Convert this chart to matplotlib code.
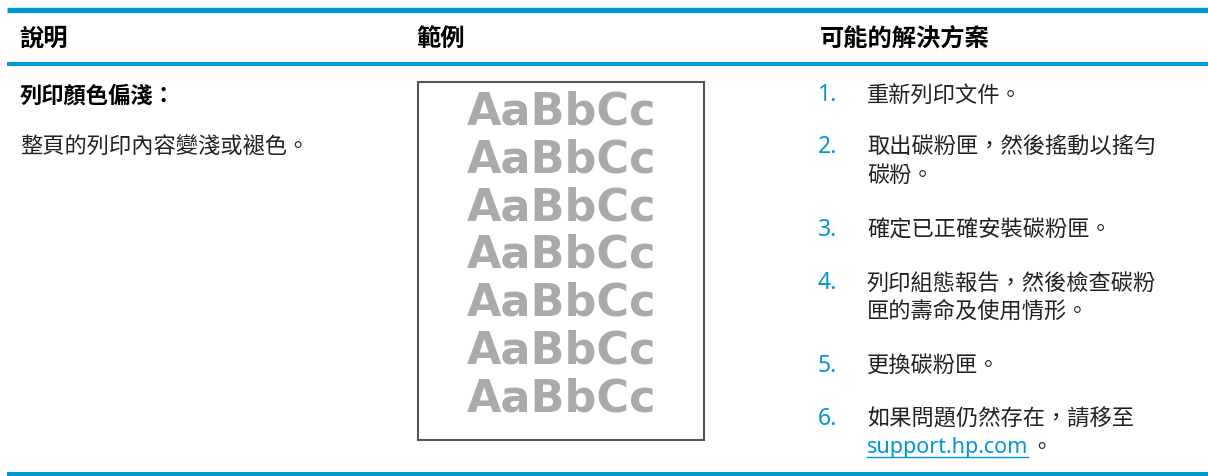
import matplotlib.pyplot as plt
from matplotlib.patches import Rectangle

plt.rcParams['font.family'] = ['Noto Sans CJK TC', 'DejaVu Sans']

# table content
headers = ['說明', '範例', '可能的解決方案']
header_x = [19, 416, 820]
problem_title = '列印顏色偏淺：'
problem_desc = '整頁的列印內容變淺或褪色。'
sample_word = 'AaBbCc'
sample_rows = 7
steps = [
    ['重新列印文件。'],
    ['取出碳粉匣，然後搖動以搖勻', '碳粉。'],
    ['確定已正確安裝碳粉匣。'],
    ['列印組態報告，然後檢查碳粉', '匣的壽命及使用情形。'],
    ['更換碳粉匣。'],
    ['如果問題仍然存在，請移至'],
]
step_y = [95, 147, 230, 283, 366, 419]
link_text = 'support.hp.com'

blue = '#0096d6'
dark = '#222222'

fig = plt.figure(figsize=(12.08, 4.77), dpi=100)
ax = fig.add_axes([0, 0, 1, 1])
ax.set_xlim(0, 1208)
ax.set_ylim(477, 0)
ax.axis('off')

# rules
ax.plot([7, 1208], [10.5, 10.5], color=blue, lw=3.8, solid_capstyle='butt')
ax.plot([7, 1208], [65, 65], color=blue, lw=2.9, solid_capstyle='butt')
ax.plot([7, 1208], [475, 475], color=blue, lw=2.9, solid_capstyle='butt')

for h, x in zip(headers, header_x):
    ax.text(x, 39, h, fontsize=17.5, fontweight='bold', color='black',
            va='center', ha='left')

ax.text(20, 96, problem_title, fontsize=16, fontweight='bold', color='black',
        va='center', ha='left')
ax.text(20, 146, problem_desc, fontsize=16, color=dark, va='center', ha='left')

# sample page
ax.add_patch(Rectangle((418, 83), 286, 358, fill=False, ec='#555555', lw=1.5))
for i in range(sample_rows):
    ax.text(562, 112 + 47.8 * i, sample_word, fontsize=32, fontweight='heavy',
            family='DejaVu Sans', color='#aaaaaa', ha='center', va='center')

# steps
line_gap = 28.5
for i, (lines, y) in enumerate(zip(steps, step_y)):
    ax.text(818, y, f'{i + 1}.', fontsize=16.5, fontweight='semibold', color=blue,
            va='center', ha='left', family=['Noto Sans', 'DejaVu Sans'])
    for j, line in enumerate(lines):
        ax.text(867, y + j * line_gap, line, fontsize=16, color=dark,
                va='center', ha='left')

# link line for step 6
ly = step_y[5] + line_gap
link = ax.text(867, ly, link_text, fontsize=15.5, color=blue, va='center',
               ha='left', family=['Noto Sans', 'DejaVu Sans'])
fig.canvas.draw()
bb = link.get_window_extent().transformed(ax.transData.inverted())
x0, x1 = min(bb.x0, bb.x1), max(bb.x0, bb.x1)
ax.plot([x0, x1], [ly + 10, ly + 10], color=blue, lw=1)
ax.text(x1 + 2, ly, '。', fontsize=16, color=dark, va='center', ha='left')

plt.savefig('out.png', dpi=100)
